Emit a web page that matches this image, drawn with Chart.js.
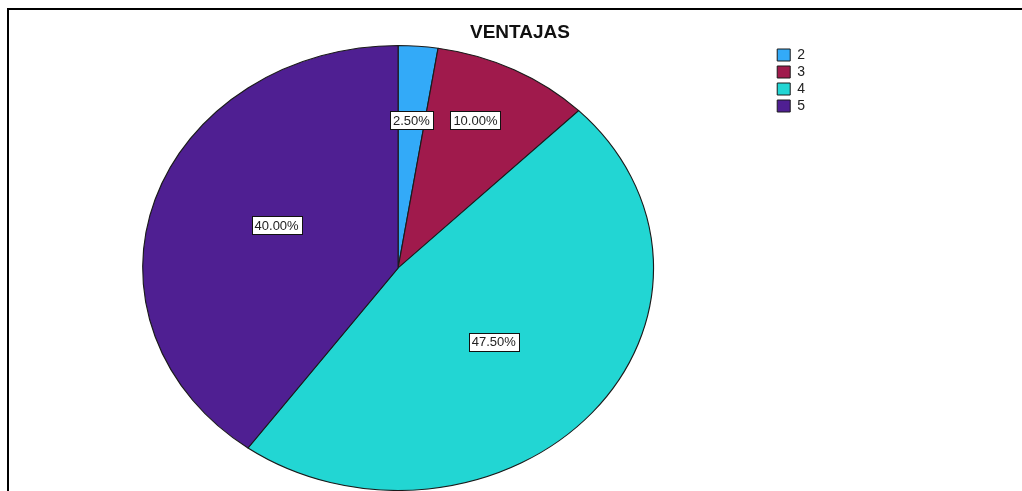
<!DOCTYPE html>
<html>
<head>
<meta charset="utf-8">
<script src="https://cdn.jsdelivr.net/npm/chart.js@4/dist/chart.umd.min.js"></script>
<style>
  html, body { margin: 0; padding: 0; background: #fff; }
  #wrap { position: relative; width: 1022px; height: 491px; overflow: hidden; }
  #frame { position: absolute; left: 7px; top: 8px; right: 0; bottom: 0;
           border-left: 2px solid #000; border-top: 2px solid #000; }
  #pie { position: absolute; left: 0; top: 0; }
</style>
</head>
<body>
<div id="wrap">
  <div id="frame"></div>
  <canvas id="pie" width="1022" height="491"></canvas>
</div>
<script>
const categories = ["2", "3", "4", "5"];
const percents = [2.5, 10.0, 47.5, 40.0];
const sliceColors = ["#33aaf8", "#a01a4c", "#22d6d3", "#4f1f92"];
const chartTitle = "VENTAJAS";

const cxt = document.getElementById("pie").getContext("2d");

// SPSS draws the pie as an ellipse: stretch it horizontally around its centre
const stretchX = 256 / 223;

const ellipsePlugin = {
  id: "ellipse",
  beforeDatasetsDraw: (chart) => {
    const arc = chart.getDatasetMeta(0).data[0];
    const c = chart.ctx;
    c.save();
    c.translate(arc.x, arc.y);
    c.scale(stretchX, 1);
    c.translate(-arc.x, -arc.y);
  },
  afterDatasetsDraw: (chart) => {
    chart.ctx.restore();
  },
};

const percentLabels = {
  id: "percentLabels",
  afterDatasetsDraw: (chart, args, opts) => {
    const c = chart.ctx;
    const values = chart.data.datasets[0].data;
    c.save();
    c.font = "13px Arial, 'Liberation Sans'";
    c.textAlign = "center";
    c.textBaseline = "middle";
    chart.getDatasetMeta(0).data.forEach((arc, i) => {
      const p = arc.getProps(["x", "y", "startAngle", "endAngle", "outerRadius"], true);
      const mid = (p.startAngle + p.endAngle) / 2 + (opts.turn[i] * Math.PI) / 180;
      const r = p.outerRadius * opts.radius[i];
      const x = p.x + Math.cos(mid) * r * stretchX;
      const y = p.y + Math.sin(mid) * r;
      const text = values[i].toFixed(2) + "%";
      const w = c.measureText(text).width + 6;
      const h = 18;
      c.fillStyle = "#fff";
      c.fillRect(Math.round(x - w / 2) + 0.5, Math.round(y - h / 2) + 0.5, Math.round(w), h);
      c.strokeStyle = "#111";
      c.lineWidth = 1;
      c.strokeRect(Math.round(x - w / 2) + 0.5, Math.round(y - h / 2) + 0.5, Math.round(w), h);
      c.fillStyle = "#222";
      c.fillText(text, x, y + 1);
    });
    c.restore();
  },
};

const titlePlugin = {
  id: "spssTitle",
  afterDraw: (chart, args, opts) => {
    const c = chart.ctx;
    c.save();
    c.font = "bold 19px Arial, 'Liberation Sans'";
    c.fillStyle = "#111";
    c.textAlign = "center";
    c.textBaseline = "middle";
    c.fillText(opts.text, opts.x, opts.y);
    c.restore();
  },
};

new Chart(cxt, {
  type: "pie",
  data: {
    labels: categories,
    datasets: [
      {
        data: percents,
        backgroundColor: sliceColors,
        borderColor: "#1a1a1a",
        borderWidth: 1,
      },
    ],
  },
  options: {
    responsive: false,
    animation: false,
    events: [],
    layout: {
      padding: { top: 45, left: 22, right: 207, bottom: 0 },
    },
    plugins: {
      title: { display: false },
      tooltip: { enabled: false },
      legend: {
        position: "right",
        align: "start",
        labels: {
          boxWidth: 13,
          boxHeight: 12,
          padding: 3,
          color: "#222",
          font: { family: "Arial, 'Liberation Sans'", size: 14 },
        },
      },
      percentLabels: {
        radius: [0.665, 0.73, 0.5, 0.513],
        turn: [0, -2.5, 1, 4],
      },
      spssTitle: { text: chartTitle, x: 520, y: 33 },
    },
  },
  plugins: [ellipsePlugin, percentLabels, titlePlugin],
});
</script>
</body>
</html>
